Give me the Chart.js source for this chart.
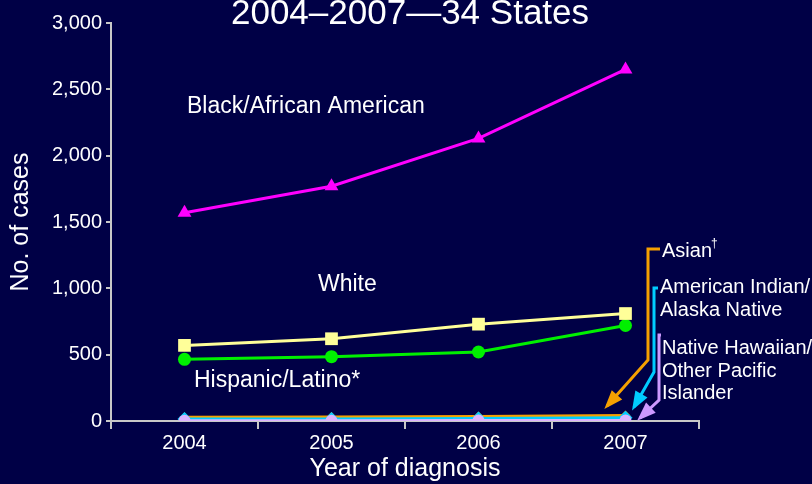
<!DOCTYPE html>
<html>
<head>
<meta charset="utf-8">
<script src="https://cdn.jsdelivr.net/npm/chart.js@4/dist/chart.umd.min.js"></script>
<style>
  html, body { margin: 0; padding: 0; background: #000046; }
  canvas { display: block; }
</style>
</head>
<body>
<canvas id="casesChart" width="812" height="484"></canvas>
<script>
// data
const years = ['2004', '2005', '2006', '2007'];
const blackAA = [1570, 1770, 2130, 2650];
const white = [570, 620, 730, 810];
const hispanic = [465, 485, 520, 720];
const asian = [28, 30, 34, 42];
const aian = [16, 16, 18, 24];
const nhopi = [2, 2, 3, 3];
const yTicks = [0, 500, 1000, 1500, 2000, 2500, 3000];

const FONT = 'Liberation Sans, Arial, sans-serif';
const AXIS = '#c8c8c8';

function arrow(ctx, pts, color) {
    ctx.save();
    ctx.strokeStyle = color;
    ctx.fillStyle = color;
    ctx.lineWidth = 3;
    ctx.beginPath();
    ctx.moveTo(pts[0][0], pts[0][1]);
    for (let i = 1; i < pts.length; i++) ctx.lineTo(pts[i][0], pts[i][1]);
    ctx.stroke();
    // head
    const p = pts[pts.length - 2], q = pts[pts.length - 1];
    const a = Math.atan2(q[1] - p[1], q[0] - p[0]);
    const len = 15, hw = 7;
    ctx.beginPath();
    ctx.moveTo(q[0] + Math.cos(a) * 4, q[1] + Math.sin(a) * 4);
    ctx.lineTo(q[0] - Math.cos(a) * len - Math.sin(a) * hw, q[1] - Math.sin(a) * len + Math.cos(a) * hw);
    ctx.lineTo(q[0] - Math.cos(a) * len + Math.sin(a) * hw, q[1] - Math.sin(a) * len - Math.cos(a) * hw);
    ctx.closePath();
    ctx.fill();
    ctx.restore();
}

const slidePlugin = {
    id: 'slide',
    beforeDraw(chart) {
        const ctx = chart.ctx;
        ctx.save();
        ctx.fillStyle = '#000046';
        ctx.fillRect(0, 0, chart.width, chart.height);
        ctx.restore();
    },
    afterDraw(chart) {
        const ctx = chart.ctx;
        ctx.save();
        ctx.fillStyle = '#ffffff';
        ctx.textBaseline = 'alphabetic';

        // title (top line is off the slide)
        ctx.textAlign = 'center';
        ctx.font = '35px ' + FONT;
        ctx.fillText('2004\u20132007\u201434 States', 410, 24);

        // series labels inside the plot
        ctx.font = '23px ' + FONT;
        ctx.textAlign = 'left';
        ctx.fillText('Black/African American', 187, 113);
        ctx.fillText('White', 318, 291);
        ctx.fillText('Hispanic/Latino*', 194, 387);

        // labels on the right
        ctx.font = '20px ' + FONT;
        ctx.fillText('Asian', 662, 257);
        ctx.font = '12px ' + FONT;
        ctx.fillText('\u2020', 711, 247);
        ctx.font = '20px ' + FONT;
        ctx.fillText('American Indian/', 660, 293);
        ctx.fillText('Alaska Native', 660, 316);
        ctx.fillText('Native Hawaiian/', 662, 354);
        ctx.fillText('Other Pacific', 662, 377);
        ctx.fillText('Islander', 662, 399);
        ctx.restore();

        arrow(ctx, [[660, 249], [648, 249], [648, 360], [607, 406]], '#f5a000');
        arrow(ctx, [[658, 288], [654, 288], [654, 372], [634, 407]], '#00ccff');
        arrow(ctx, [[661, 335], [659, 335], [659, 400], [640, 418]], '#cc99ff');
    }
};

function series(label, data, color, style, radius, pointColor) {
    return {
        label: label,
        data: data,
        borderColor: color,
        backgroundColor: pointColor || color,
        pointBackgroundColor: pointColor || color,
        pointBorderColor: pointColor || color,
        pointBorderWidth: 0,
        borderWidth: 3,
        pointStyle: style,
        pointRadius: radius,
        pointHoverRadius: radius,
        tension: 0,
    };
}

new Chart(document.getElementById('casesChart'), {
    type: 'line',
    data: {
        labels: years,
        datasets: [
            series('Black/African American', blackAA, '#ff00ff', 'triangle', 8),
            series('White', white, '#ffff99', 'rect', 9),
            series('Hispanic/Latino', hispanic, '#00f000', 'circle', 6.5),
            series('Native Hawaiian/Other Pacific Islander', nhopi, '#dcb4ff', 'circle', 6),
            series('American Indian/Alaska Native', aian, '#00ccff', 'rectRot', 7),
            series('Asian', asian, '#f5a000', 'rectRot', 5),
        ],
    },
    options: {
        responsive: false,
        animation: false,
        layout: { padding: { left: 0, top: 23, right: 113, bottom: 0 } },
        plugins: {
            legend: { display: false },
            tooltip: { enabled: false },
            title: { display: false },
        },
        scales: {
            x: {
                offset: true,
                grid: {
                    offset: true,
                    drawOnChartArea: false,
                    drawTicks: true,
                    tickLength: 8,
                    color: AXIS,
                    lineWidth: 2,
                },
                border: { display: true, color: AXIS, width: 2 },
                ticks: { color: '#ffffff', font: { family: FONT, size: 20 }, padding: 2 },
                title: {
                    display: true,
                    text: 'Year of diagnosis',
                    color: '#ffffff',
                    font: { family: FONT, size: 25 },
                    padding: { top: 0, bottom: 0 },
                },
                afterFit(scale) { scale.height = 63; },
            },
            y: {
                min: 0,
                max: 3000,
                afterBuildTicks(scale) { scale.ticks = yTicks.map(v => ({ value: v })); },
                grid: {
                    drawOnChartArea: false,
                    drawTicks: true,
                    tickLength: 5,
                    color: AXIS,
                    lineWidth: 2,
                },
                border: { display: true, color: AXIS, width: 2 },
                ticks: {
                    color: '#ffffff',
                    font: { family: FONT, size: 20 },
                    padding: 4,
                    callback: v => v.toLocaleString('en-US'),
                },
                title: {
                    display: true,
                    text: 'No. of cases',
                    color: '#ffffff',
                    font: { family: FONT, size: 25 },
                    padding: { top: 6, bottom: 0 },
                },
                afterFit(scale) { scale.width = 111; },
            },
        },
    },
    plugins: [slidePlugin],
});
</script>
</body>
</html>
